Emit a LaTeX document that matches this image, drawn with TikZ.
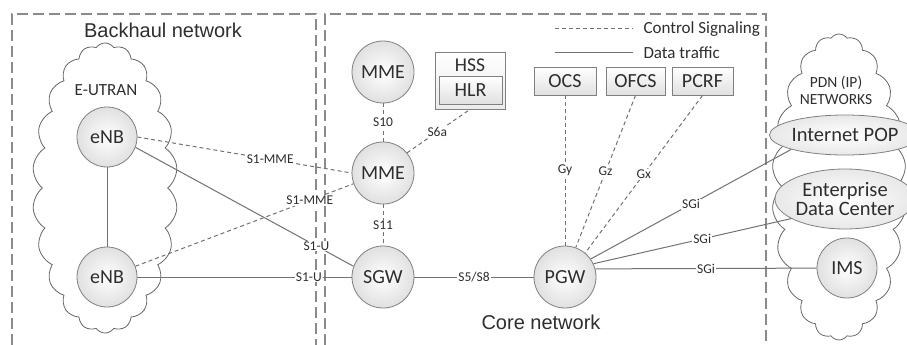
\documentclass[tikz,border=0pt]{standalone}
\usepackage{fontspec}
\setmainfont{Carlito}
\newfontfamily\arialfont{Liberation Sans}
\usetikzlibrary{shapes.symbols,shapes.geometric}
\definecolor{lc}{HTML}{727272}
\definecolor{bc}{HTML}{8A8A8A}
\definecolor{tc}{HTML}{2E2E2E}
\tikzset{
  region/.style={draw=bc, line width=1.8pt, dash pattern=on 11pt off 5pt},
  elem/.style={circle, draw=black!50, line width=0.8pt, inner sep=0pt, minimum size=60pt,
    inner color=white, outer color=black!12, text=tc, font=\fontsize{20}{22}\selectfont},
  oval/.style={ellipse, draw=black!50, line width=0.8pt, inner sep=0pt,
    inner color=white, outer color=black!9, text=tc, align=center, font=\fontsize{20.5}{21}\selectfont},
  srv/.style={rectangle, draw=black!50, line width=0.8pt, inner sep=0pt,
    top color=white, bottom color=black!12, text=tc, font=\fontsize{20}{22}\selectfont},
  cloudy/.style={cloud, draw=black!60, line width=0.8pt, cloud puffs=22, cloud puff arc=110, cloud ignores aspect, inner sep=0pt},
  ctl/.style={draw=lc, line width=1pt, dashed, dash pattern=on 4pt off 3pt},
  dat/.style={draw=lc, line width=1pt},
  lab/.style={fill=white, inner sep=1pt, text=tc, font=\fontsize{13.5}{14}\selectfont},
  title/.style={text=tc, font=\arialfont\fontsize{20}{22}\selectfont},
  ltxt/.style={text=tc, anchor=west, font=\fontsize{17}{18}\selectfont}
}
\begin{document}
\begin{tikzpicture}[x=1pt,y=-1pt]
\useasboundingbox (0,0) rectangle (907,345);
% regions
\draw[region] (12,345) -- (12,14) -- (316,14) -- (316,345);
\draw[region] (325,345) -- (325,14) -- (766,14) -- (766,345);
\node[title] (bh) at (163,30) {Backhaul network};
\node[title] (cn) at (541,322) {Core network};
% clouds
\node[cloudy, minimum width=145pt, minimum height=290pt] (eutran) at (105,188) {};
\node[cloudy, minimum width=134pt, minimum height=306pt] (pdn) at (839,187) {};
\node[text=tc, font=\fontsize{17}{18}\selectfont] (eutl) at (106,90) {E-UTRAN};
\node[text=tc, align=center, font=\fontsize{15.5}{17}\selectfont] (pdnl) at (836,90) {PDN (IP)\\NETWORKS};
% legend
\coordinate (lc1) at (555,29);
\coordinate (lc2) at (633,29);
\coordinate (ld1) at (555,53);
\coordinate (ld2) at (633,53);
\draw[ctl] (lc1) -- (lc2);
\draw[dat] (ld1) -- (ld2);
\node[ltxt] (lct) at (640,29) {Control Signaling};
\node[ltxt] (ldt) at (640,53) {Data traffic};
% nodes
\node[elem] (enb1) at (107,137) {eNB};
\node[elem] (enb2) at (107,277) {eNB};
\node[elem, minimum size=62pt] (mme1) at (383,72) {MME};
\node[elem, minimum size=62pt] (mme2) at (383,173) {MME};
\node[elem, minimum size=62pt] (sgw) at (383,277) {SGW};
\node[elem, minimum size=62pt] (pgw) at (565,277) {PGW};
\node[elem] (ims) at (847,268) {IMS};
\node[oval, minimum width=118pt, minimum height=40pt] (pop) at (845,135) {Internet POP};
\node[oval, minimum width=114pt, minimum height=60pt] (edc) at (845,199) {Enterprise\\[-2pt]Data Center};
\node[srv, minimum width=70pt, minimum height=57pt, bottom color=black!8] (hss) at (470,80.5) {};
\node[text=tc, font=\fontsize{19.5}{21}\selectfont] (hsst) at (470,65) {HSS};
\node[srv, minimum width=63pt, minimum height=28pt] (hlr) at (470.5,90) {HLR};
\node[srv, minimum width=62pt, minimum height=28pt] (ocs) at (565,81) {OCS};
\node[srv, minimum width=59pt, minimum height=28pt] (ofcs) at (635.5,81) {OFCS};
\node[srv, minimum width=61pt, minimum height=28pt] (pcrf) at (702.5,81) {PCRF};
% connectors
\draw[dat] (enb1) -- (enb2);
\draw[ctl] (enb1.east) -- node[lab, pos=0.62] {S1-MME} (mme2.west);
\draw[ctl] (enb2) -- node[lab, pos=0.8] {S1-MME} (mme2.200);
\draw[dat] (enb1.-20) -- node[lab, pos=0.83] {S1-U} (sgw.160);
\draw[dat] (enb2) -- node[lab, pos=0.8] {S1-U} (sgw);
\draw[ctl] (mme1) -- node[lab] {S10} (mme2);
\draw[ctl] (mme2) -- node[lab] {S11} (sgw);
\draw[ctl] (mme2.40) -- node[lab, pos=0.48] {S6a} (hss.south);
\draw[dat] (sgw) -- node[lab] {S5/S8} (pgw);
\draw[ctl] (ocs) -- node[lab, pos=0.5] {Gy} (pgw);
\draw[ctl] (ofcs.south) -- node[lab, pos=0.5] {Gz} (pgw.70);
\draw[ctl] (pcrf.south) -- node[lab, pos=0.5] {Gx} (pgw.50);
\draw[dat] (pgw.35) -- node[lab, pos=0.5] {SGi} (pop.195);
\draw[dat] (pgw.25) -- node[lab, pos=0.55] {SGi} (edc.200);
\draw[dat] (pgw.15) -- node[lab, pos=0.5] {SGi} (ims);
\end{tikzpicture}
\end{document}
